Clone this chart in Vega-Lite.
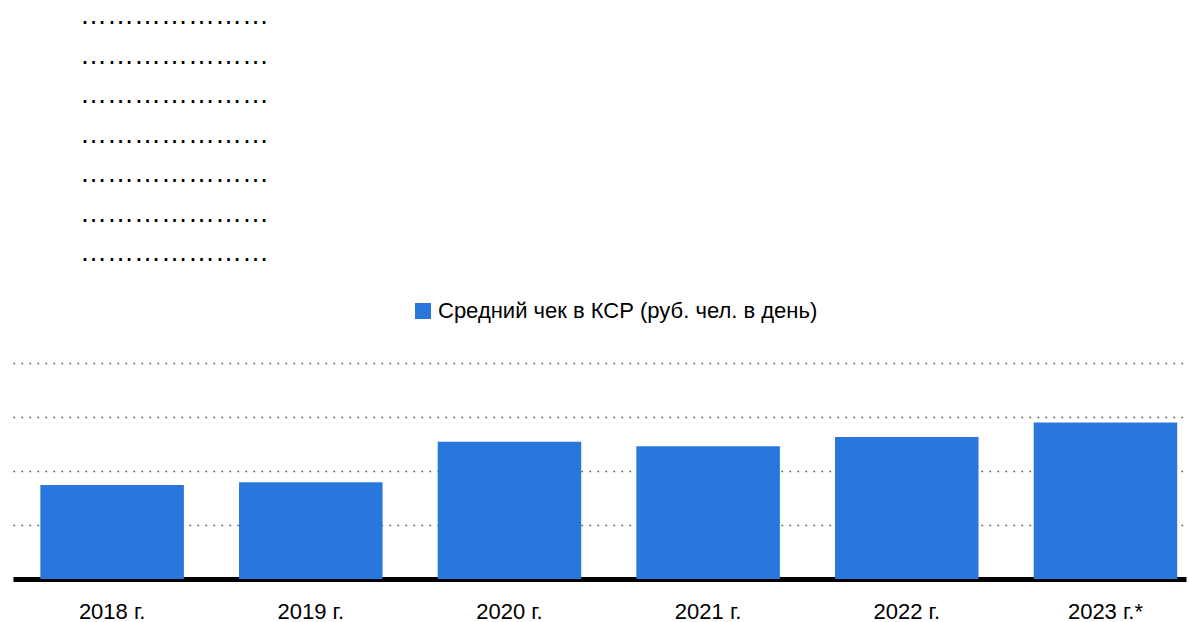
{
  "$schema": "https://vega.github.io/schema/vega-lite/v6.json",
  "autosize": "none",
  "width": 1173,
  "height": 216,
  "padding": {"left": 13, "top": 363, "right": 3, "bottom": 43},
  "background": "white",
  "title": {
    "text": ["…………………", "…………………", "…………………", "…………………", "…………………", "…………………", "…………………"],
    "anchor": "start",
    "frame": "group",
    "orient": "top",
    "dx": 67,
    "offset": 33,
    "font": "Liberation Sans",
    "fontSize": 27,
    "fontWeight": "normal",
    "color": "#000000",
    "lineHeight": 39.5
  },
  "data": {
    "values": [
      {"year": "2018 г.", "value": 1740, "series": "Средний чек в КСР (руб. чел. в день)"},
      {"year": "2019 г.", "value": 1790, "series": "Средний чек в КСР (руб. чел. в день)"},
      {"year": "2020 г.", "value": 2540, "series": "Средний чек в КСР (руб. чел. в день)"},
      {"year": "2021 г.", "value": 2460, "series": "Средний чек в КСР (руб. чел. в день)"},
      {"year": "2022 г.", "value": 2630, "series": "Средний чек в КСР (руб. чел. в день)"},
      {"year": "2023 г.*", "value": 2900, "series": "Средний чек в КСР (руб. чел. в день)"}
    ]
  },
  "mark": {"type": "bar"},
  "encoding": {
    "x": {
      "field": "year",
      "type": "nominal",
      "sort": null,
      "scale": {"paddingInner": 0.2775, "paddingOuter": 0.091, "align": 0.757},
      "axis": {
        "title": null,
        "labelAngle": 0,
        "ticks": false,
        "tickSize": 0,
        "labelPadding": 22,
        "labelFont": "Liberation Sans",
        "labelFontSize": 22,
        "labelColor": "#000000",
        "domainColor": "#000000",
        "domainWidth": 5,
        "grid": false
      }
    },
    "y": {
      "field": "value",
      "type": "quantitative",
      "scale": {"domain": [0, 4000], "nice": false},
      "axis": {
        "title": null,
        "values": [0, 1000, 2000, 3000, 4000],
        "labels": false,
        "ticks": false,
        "domain": false,
        "grid": true,
        "gridColor": "#555555",
        "gridDash": [1.6, 6.4],
        "gridWidth": 1.3
      }
    },
    "color": {
      "field": "series",
      "type": "nominal",
      "scale": {"range": ["#2977DD"]},
      "legend": {
        "title": null,
        "orient": "none",
        "legendX": 399,
        "legendY": -63,
        "direction": "horizontal",
        "symbolType": "square",
        "symbolSize": 256,
        "symbolStrokeWidth": 0,
        "symbolOpacity": 1,
        "labelFont": "Liberation Sans",
        "labelFontSize": 22,
        "labelColor": "#000000",
        "labelLimit": 0,
        "labelOffset": 4
      }
    }
  },
  "config": {
    "view": {"stroke": null}
  }
}
